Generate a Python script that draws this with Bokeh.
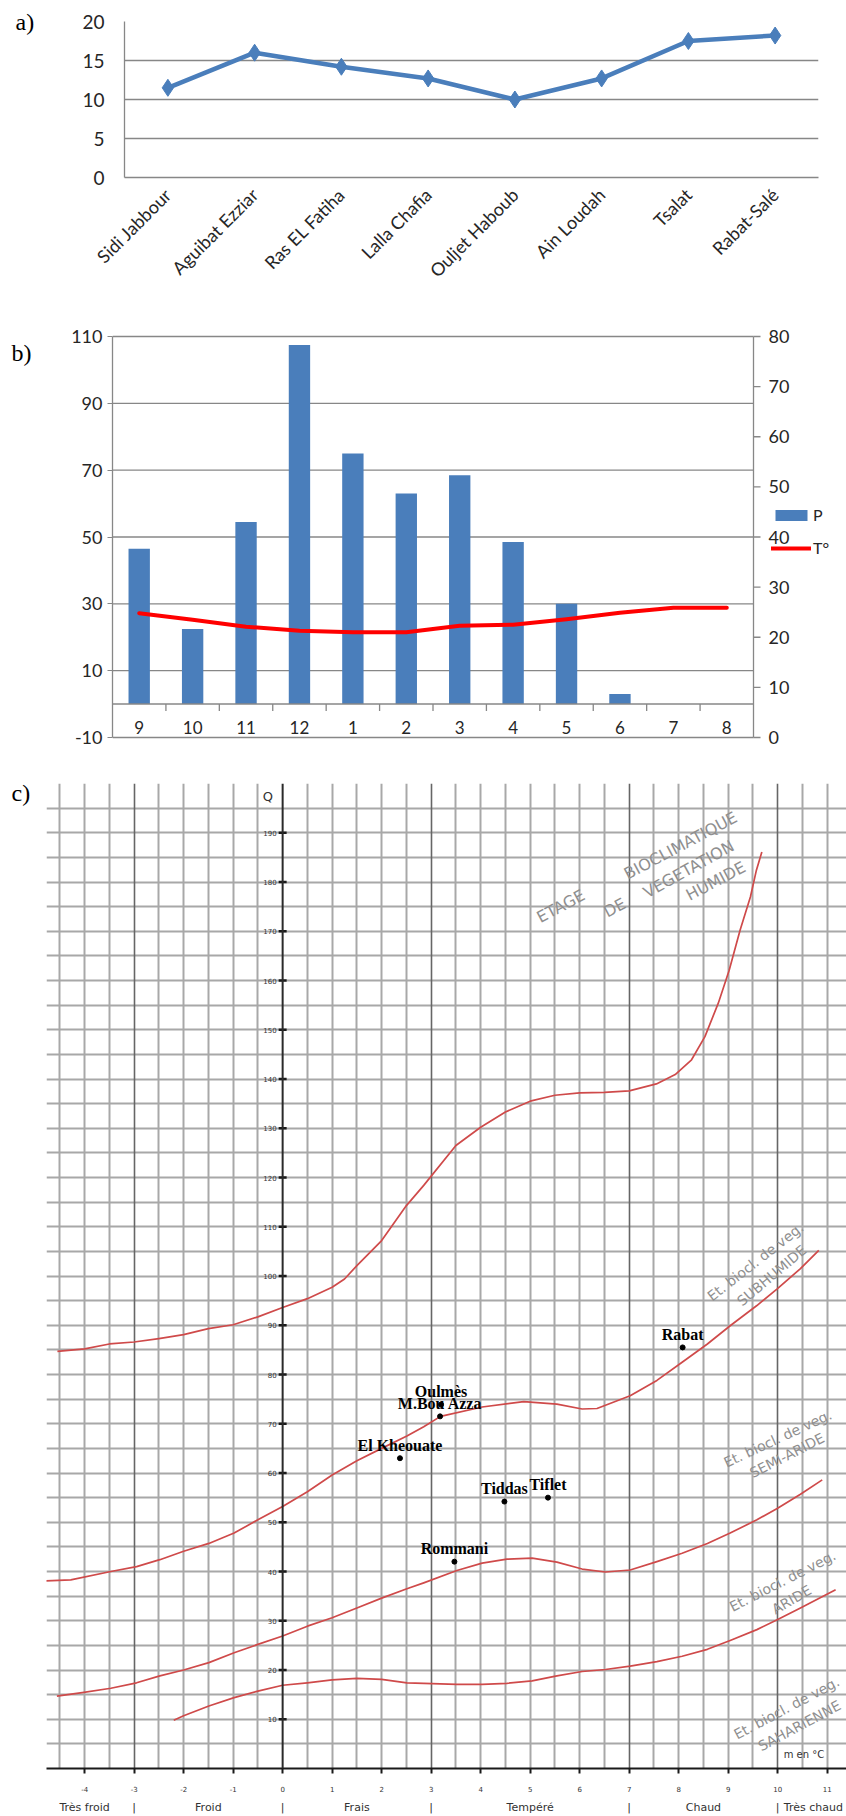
import math
from bokeh.plotting import figure
from bokeh.models import (Range1d, FixedTicker, Grid, Span, Label, Legend, LegendItem, LinearAxis)
from bokeh.layouts import column, row
from bokeh.embed import file_html
from bokeh.resources import INLINE
from bokeh.core.properties import value

# ---------------- data: panel a ----------------
stations = ["Sidi Jabbour", "Aguibat Ezziar", "Ras EL Fatiha", "Lalla Chafia",
            "Ouljet Haboub", "Ain Loudah", "Tsalat", "Rabat-Salé"]
station_values = [11.5, 16.0, 14.2, 12.7, 10.0, 12.7, 17.5, 18.2]
a_yticks = [0, 5, 10, 15, 20]

# ---------------- data: panel b ----------------
months = ["9", "10", "11", "12", "1", "2", "3", "4", "5", "6", "7", "8"]
precip = [46.5, 22.5, 54.5, 107.5, 75.0, 63.0, 68.5, 48.5, 30.0, 3.0, 0.0, 0.0]
temp = [24.8, 23.5, 22.1, 21.3, 21.0, 21.0, 22.3, 22.5, 23.6, 24.9, 25.9, 25.9]
b_left_ticks = [-10, 10, 30, 50, 70, 90, 110]
b_right_ticks = [0, 10, 20, 30, 40, 50, 60, 70, 80]

# ---------------- data: panel c (Emberger climagram) ----------------
humid_m = [-4.55, -4.0, -3.5, -3.0, -2.5, -2.0, -1.5, -1.0, -0.5, 0.0, 0.5, 1.0, 1.25, 1.5,
           2.0, 2.5, 2.85, 3.5, 4.0, 4.5, 5.0, 5.5, 6.0, 6.5, 7.0, 7.55, 7.93, 8.26, 8.53,
           8.8, 9.02, 9.24, 9.45, 9.57, 9.68]
humid_q = [84.7, 85.2, 86.2, 86.6, 87.3, 88.1, 89.3, 90.1, 91.7, 93.6, 95.4, 97.7, 99.4, 102.1,
           107.2, 114.3, 118.4, 126.5, 130.2, 133.3, 135.5, 136.7, 137.2, 137.3, 137.6, 139.0,
           140.9, 143.9, 148.6, 155.4, 162.1, 170.2, 177.0, 182.4, 186.1]

subhumid_m = [-4.78, -4.28, -3.47, -2.95, -2.48, -2.0, -1.49, -0.98, -0.5, 0.0, 0.5, 1.0, 1.5,
              2.0, 2.51, 2.85, 3.19, 4.03, 4.87, 5.54, 6.05, 6.35, 7.02, 7.56, 8.07, 8.58,
              9.04, 9.58, 9.99, 10.46, 10.83]
subhumid_q = [38.1, 38.3, 40.0, 41.0, 42.4, 44.1, 45.7, 47.8, 50.5, 53.2, 56.2, 59.6, 62.5,
              65.0, 67.5, 69.4, 71.5, 73.4, 74.5, 74.0, 73.0, 73.1, 75.7, 78.8, 82.5, 86.2,
              89.9, 94.0, 97.4, 101.5, 105.2]

semiarid_m = [-4.56, -4.05, -3.47, -2.95, -2.48, -2.0, -1.49, -0.98, -0.5, 0.0, 0.5, 1.0, 1.5,
              2.0, 2.51, 2.85, 3.52, 4.03, 4.53, 5.04, 5.54, 6.05, 6.52, 7.02, 7.56, 8.07,
              8.58, 9.04, 9.58, 9.99, 10.46, 10.9]
semiarid_q = [14.7, 15.4, 16.3, 17.4, 18.8, 20.0, 21.5, 23.5, 25.2, 26.9, 28.9, 30.6, 32.6,
              34.6, 36.5, 37.7, 40.2, 41.7, 42.5, 42.7, 41.9, 40.5, 39.9, 40.3, 42.0, 43.7,
              45.7, 47.8, 50.5, 52.8, 55.7, 58.6]

arid_m = [-2.2, -2.0, -1.49, -0.98, -0.5, 0.0, 0.5, 1.0, 1.5, 2.0, 2.51, 2.85, 3.52, 4.03,
          4.53, 5.04, 5.54, 6.05, 6.52, 7.02, 7.56, 8.07, 8.58, 9.04, 9.58, 9.99, 10.46, 11.17]
arid_q = [9.8, 10.7, 12.7, 14.4, 15.7, 16.9, 17.4, 18.0, 18.3, 18.1, 17.4, 17.3, 17.1, 17.1,
          17.3, 17.8, 18.8, 19.7, 20.1, 20.8, 21.7, 22.8, 24.2, 26.0, 28.2, 30.2, 32.6, 36.3]

site_names = ["Rabat", "Oulmès", "M.Bou Azza", "El Kheouate", "Tiddas", "Tiflet", "Rommani"]
site_m = [8.08, 3.2, 3.18, 2.37, 4.48, 5.36, 3.47]
site_q = [85.5, 73.9, 71.5, 63.0, 54.2, 55.0, 42.0]

q_ticks = [10, 20, 30, 40, 50, 60, 70, 80, 90, 100, 110, 120, 130, 140, 150, 160, 170, 180, 190]
m_ticks = [-4, -3, -2, -1, 0, 1, 2, 3, 4, 5, 6, 7, 8, 9, 10, 11]
zone_ticks = [-4, -3, -1.5, 0, 1.5, 3, 5, 7, 8.5, 10, 10.72]
zone_names = ["Très froid", "|", "Froid", "|", "Frais", "|", "Tempéré", "|", "Chaud", "|", "Très chaud"]

stage_text = ["ETAGE", "DE", "BIOCLIMATIQUE", "VEGETATION", "HUMIDE",
              "Et. biocl. de veg.", "SUBHUMIDE",
              "Et. biocl. de veg.", "SEMI-ARIDE",
              "Et. biocl. de veg.", "ARIDE",
              "Et. biocl. de veg.", "SAHARIENNE"]
stage_m = [5.62, 6.71, 8.04, 8.2, 8.75, 9.55, 9.88, 10.0, 10.19, 10.1, 10.28, 10.18, 10.44]
stage_q = [175.1, 174.8, 187.4, 182.6, 180.2, 102.9, 100.1, 67.0, 63.6, 38.1, 34.3, 12.3, 8.7]
stage_angle = [28, 28, 28, 29, 28, 38, 40, 25, 27, 27, 30, 28, 28]
stage_size = ["16px"] * 5 + ["14px"] * 8

panel_tags = ["a)", "b)", "c)"]

# ---------------- styles ----------------
BLUE = "#4a7ebb"
GRIDGRAY = "#878787"
TXT = "#262626"
FONT = "Lato"
CURVE = "#cf4a4a"


def tag_fig(w, h, tag, tx, ty):
    f = figure(width=w, height=h, x_range=Range1d(0, w), y_range=Range1d(0, h),
               x_axis_location=None, y_axis_location=None, output_backend="svg",
               toolbar_location=None, min_border=0)
    f.min_border_left = f.min_border_right = f.min_border_top = f.min_border_bottom = 0
    f.frame_align = False
    f.outline_line_color = None
    f.xgrid.grid_line_color = None
    f.ygrid.grid_line_color = None
    f.text(x=[tx], y=[ty], text=[tag], text_align="left", text_baseline="middle",
           text_font=value("Liberation Serif"), text_font_size="24px", text_color="black")
    return f


# ================= panel a =================
A_H = 305
A_TAG_W = 54
pa = figure(width=846 - A_TAG_W, height=A_H, x_range=stations, y_range=Range1d(0, 20),
            output_backend="svg", toolbar_location=None,
            min_border_left=70, min_border_right=28, min_border_top=21, min_border_bottom=128)
pa.frame_align = False
pa.outline_line_color = None
pa.xgrid.grid_line_color = None
pa.ygrid.grid_line_color = GRIDGRAY
pa.ygrid.grid_line_width = 1.3
pa.yaxis.ticker = FixedTicker(ticks=a_yticks)
for ax in (pa.xaxis[0], pa.yaxis[0]):
    ax.axis_line_color = GRIDGRAY
    ax.axis_line_width = 1.3
    ax.major_tick_out = 0
    ax.major_tick_in = 0
    ax.minor_tick_out = 0
    ax.minor_tick_in = 0
    ax.major_label_text_font = FONT
    ax.major_label_text_color = TXT
pa.yaxis.major_label_text_font_size = "19px"
pa.yaxis.major_label_standoff = 20
pa.xaxis.major_label_text_font_size = "18px"
pa.xaxis.major_label_orientation = math.pi / 4
pa.xaxis.major_label_standoff = 14
pa.line(x=stations, y=station_values, line_color=BLUE, line_width=4.5)
pa.scatter(x=stations, y=station_values, marker="diamond", size=17, color=BLUE)
row_a = row(tag_fig(A_TAG_W, A_H, panel_tags[0], 15, A_H - 21), pa)

# ================= panel b =================
B_H = 459
B_TAG_W = 40
idx = list(range(len(months)))
B_DATA_PX = 641          # width in px of the month area
B_FRAME_PX = 722         # frame width incl. room for the secondary axis labels / legend
x_end = -0.5 + len(months) * B_FRAME_PX / B_DATA_PX
right_edge = len(months) - 0.5
P_LO, P_HI = -10, 110
T_LO, T_HI = 0, 80
PAD = 3.0                # headroom (in P units) so edge tick labels are not clipped
t_per_p = (T_HI - T_LO) / (P_HI - P_LO)
pb = figure(width=846 - B_TAG_W, height=B_H, x_range=Range1d(-0.5, x_end),
            y_range=Range1d(P_LO - PAD, P_HI + PAD), x_axis_location=None,
            output_backend="svg", toolbar_location=None,
            min_border_left=72, min_border_right=12, min_border_top=21, min_border_bottom=17)
pb.frame_align = False
pb.outline_line_color = None
pb.extra_y_ranges = {"T": Range1d(T_LO - PAD * t_per_p, T_HI + PAD * t_per_p)}
pb.xgrid.grid_line_color = None
pb.ygrid.grid_line_color = None
ly = pb.yaxis[0]
ly.ticker = FixedTicker(ticks=b_left_ticks)
ly.bounds = (P_LO, P_HI)
ly.major_label_overrides = {t: str(t) for t in b_left_ticks}
ly.axis_line_color = GRIDGRAY
ly.axis_line_width = 1.3
ly.major_tick_line_color = GRIDGRAY
ly.major_tick_out = 5
ly.major_tick_in = 0
ly.minor_tick_out = 0
ly.minor_tick_in = 0
ly.major_label_standoff = 5
ly.major_label_text_font = FONT
ly.major_label_text_font_size = "18px"
ly.major_label_text_color = TXT

# horizontal gridlines restricted to the month area
pb.segment(x0=[-0.5] * len(b_left_ticks), y0=b_left_ticks,
           x1=[right_edge] * len(b_left_ticks), y1=b_left_ticks,
           line_color=GRIDGRAY, line_width=1.3)
# secondary (temperature) axis at the right edge of the month area
pb.segment(x0=[right_edge], y0=[P_LO], x1=[right_edge], y1=[P_HI],
           line_color=GRIDGRAY, line_width=1.3)
pb.ray(x=[right_edge] * len(b_right_ticks), y=b_right_ticks, y_range_name="T",
       length=7, length_units="screen", angle=0, line_color=GRIDGRAY, line_width=1.3)
pb.text(x=[right_edge] * len(b_right_ticks), y=b_right_ticks, y_range_name="T",
        text=[str(t) for t in b_right_ticks], x_offset=15, text_align="left",
        text_baseline="middle", text_font=value(FONT), text_font_size="18px", text_color=TXT)

bars = pb.vbar(x=idx, top=precip, bottom=0, width=0.4, fill_color=BLUE, line_color=None)
tline = pb.line(x=idx, y=temp, y_range_name="T", line_color="#ff0000", line_width=4,
                line_join="round", line_cap="round")
pb.segment(x0=[-0.5], y0=[0], x1=[right_edge], y1=[0], line_color=GRIDGRAY, line_width=1.5)
bounds = [i + 0.5 for i in idx[:-1]]
pb.segment(x0=bounds, y0=[0] * len(bounds), x1=bounds, y1=[-2.1] * len(bounds),
           line_color=GRIDGRAY, line_width=1.3)
pb.text(x=idx, y=[-7.0] * len(idx), text=months, text_align="center", text_baseline="middle",
        text_font=value(FONT), text_font_size="17px", text_color=TXT)
leg = Legend(items=[LegendItem(label="P", renderers=[bars]),
                    LegendItem(label="T°", renderers=[tline])],
             location=(659, 190), padding=0, margin=0, spacing=14,
             glyph_width=40, glyph_height=14, label_standoff=2,
             label_text_font=FONT, label_text_font_size="16px", label_text_color=TXT,
             border_line_color=None, background_fill_alpha=0)
pb.add_layout(leg)
row_b = row(tag_fig(B_TAG_W, B_H, panel_tags[1], 11, B_H - 47), pb)

# ================= panel c =================
C_H = 1052
C_TAG_W = 46
pc = figure(width=846 - C_TAG_W, height=C_H, x_range=Range1d(-4.77, 11.39), y_range=Range1d(0, 200),
            y_axis_location=None, output_backend="svg", toolbar_location=None,
            min_border_left=0, min_border_right=0, min_border_top=19, min_border_bottom=45)
pc.frame_align = False
pc.outline_line_color = None
pc.xgrid.grid_line_color = None
pc.ygrid.grid_line_color = None

minor_v = [k / 2 for k in range(-9, 23) if k / 2 not in (-3, 0, 3, 7, 10)]
major_v = [-3, 3, 7, 10]
h_lines = list(range(5, 200, 5))
pc.add_layout(Grid(dimension=0, ticker=FixedTicker(ticks=minor_v),
                   grid_line_color="#a8a8a8", grid_line_width=2))
pc.add_layout(Grid(dimension=1, ticker=FixedTicker(ticks=h_lines),
                   grid_line_color="#a8a8a8", grid_line_width=2))
pc.add_layout(Grid(dimension=0, ticker=FixedTicker(ticks=major_v),
                   grid_line_color="#666666", grid_line_width=1.6))
pc.add_layout(Span(location=0, dimension="height", line_color="#2a2a2a", line_width=2))

ax1 = pc.xaxis[0]
ax1.ticker = FixedTicker(ticks=m_ticks)
ax1.major_label_overrides = {t: str(t) for t in m_ticks}
ax1.axis_line_color = "#1a1a1a"
ax1.axis_line_width = 2
ax1.major_tick_line_color = "#1a1a1a"
ax1.major_tick_line_width = 2
ax1.major_tick_out = 5
ax1.major_tick_in = 0
ax1.minor_tick_out = 0
ax1.minor_tick_in = 0
ax1.major_label_standoff = 12
ax1.major_label_text_font = "DejaVu Sans"
ax1.major_label_text_font_size = "7px"
ax1.major_label_text_color = "#333333"

ax2 = LinearAxis(ticker=FixedTicker(ticks=zone_ticks),
                 major_label_overrides={float(t): n for t, n in zip(zone_ticks, zone_names)})
ax2.axis_line_color = None
ax2.major_tick_out = 0
ax2.major_tick_in = 0
ax2.minor_tick_out = 0
ax2.minor_tick_in = 0
ax2.major_label_standoff = 6
ax2.major_label_text_font = "DejaVu Sans"
ax2.major_label_text_font_size = "11px"
ax2.major_label_text_color = "#333333"
pc.add_layout(ax2, "below")

# Q axis ticks and labels
pc.scatter(x=[0] * len(q_ticks), y=q_ticks, marker="dash", size=8, line_width=2.5,
           line_color="#1a1a1a")
pc.text(x=[0] * len(q_ticks), y=q_ticks, text=[str(q) for q in q_ticks], x_offset=-6,
        text_align="right", text_baseline="middle", text_font=value("DejaVu Sans"),
        text_font_size="7px", text_color="#333333")

# bioclimatic boundaries
for xs, ys in ((humid_m, humid_q), (subhumid_m, subhumid_q),
               (semiarid_m, semiarid_q), (arid_m, arid_q)):
    pc.line(x=xs, y=ys, line_color=CURVE, line_width=1.7, line_join="round")

# zone labels
pc.text(x=stage_m, y=stage_q, text=stage_text, angle=stage_angle, angle_units="deg",
        text_align="center", text_baseline="middle", text_font=value("DejaVu Sans"),
        text_font_size=stage_size, text_color="#8f8f8f")

# stations
pc.scatter(x=site_m, y=site_q, marker="circle", size=5, color="black")
pc.text(x=site_m, y=site_q, text=site_names, y_offset=-13, text_align="center",
        text_baseline="middle", text_font=value("Liberation Serif"), text_font_style="bold",
        text_font_size="16px", text_color="black")

pc.add_layout(Label(x=-0.3, y=197.3, text="Q", text_font="DejaVu Sans", text_font_size="13px",
                    text_align="center", text_baseline="middle", text_color="#333333"))
pc.add_layout(Label(x=10.53, y=2.8, text="m en °C", text_font="DejaVu Sans", text_font_size="10px",
                    text_align="center", text_baseline="middle", text_color="#333333"))
row_c = row(tag_fig(C_TAG_W, C_H, panel_tags[2], 11, C_H - 28), pc)

layout = column(row_a, row_b, row_c)
open("out.html", "w").write(file_html(layout, INLINE))
